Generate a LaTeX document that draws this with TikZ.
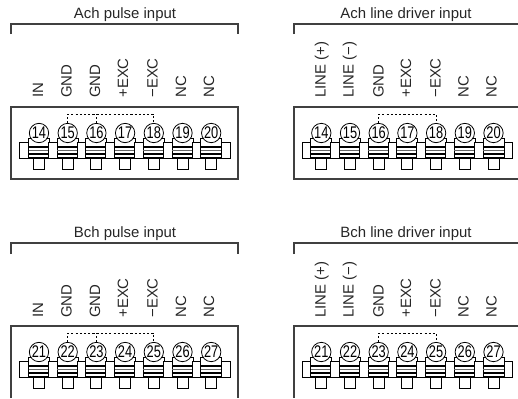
\documentclass[tikz,border=0pt]{standalone}
\usepackage{fontspec}
\setmainfont{Liberation Sans}
\tikzset{
  lbl/.style={font=\fontsize{8.5}{9}\selectfont, inner sep=0pt, text=black!85},
  sig/.style={lbl, rotate=90, anchor=mid west},
  num/.style={circle, draw, fill=white, line width=0.45pt, minimum size=11pt, inner sep=0pt, font=\fontsize{9.6}{10}\selectfont},
  edge/.style={line width=0.6pt, black!75},
  part/.style={line width=0.5pt, fill=white},
  link/.style={line width=0.4pt, dash pattern=on 1.2pt off 1.2pt},
}
% one terminal at x, y: post, body, stripes, foot, number
\newcommand{\term}[4]{
  \draw[part] (#1-19.2,#2+9) rectangle (#1-10.5,#2+25);
  \draw[part] (#1-10.5,#2+5) rectangle (#1+10.5,#2+25);
  \draw[part] (#1-5.5,#2+25) rectangle (#1+5.5,#2+36);
  \draw[line width=0.7pt] (#1-10.5,#2+14) -- (#1+10.5,#2+14) (#1-10.5,#2+21) -- (#1+10.5,#2+21) (#1-10.5,#2+25) -- (#1+10.5,#2+25);
  \draw[line width=0.4pt, black!60] (#1-10.5,#2+17.5) -- (#1+10.5,#2+17.5);
  \node[num] (#3#4) at (#1,#2) {\scalebox{0.76}[1]{#4}};
}
\begin{document}
\begin{tikzpicture}[x=0.569pt,y=-0.569pt]
\useasboundingbox (0,0) rectangle (518,398);
\clip (0,0) rectangle (518,398);
% Ach pulse input
\node[lbl] (ta) at (125,14.5) {Ach pulse input};
\draw[edge] (11,34) -- (11,24) -- (238,24) -- (238,34);
\draw[edge] (11,107) rectangle (238,179);
\foreach \x/\s in {38.5/IN,67/GND,95.5/GND,123.5/+EXC,153/−EXC,181.5/NC,209.5/NC}
  \node[sig] (la\s) at (\x,98) {\s};
\foreach \x/\n in {39/14,67.7/15,96.4/16,125.1/17,153.8/18,182.5/19,211.2/20}
  \term{\x}{133}{a}{\n}
\draw[part] (221.7,142) rectangle (230.2,158);
\draw[link] (a15.north) -- ++(0,-9) -| (a18.north);
\draw[link] (a16.north) -- ++(0,-9);
% Ach line driver input
\node[lbl] (tb) at (406,14.5) {Ach line driver input};
\draw[edge] (294,34) -- (294,24) -- (518,24);
\draw[edge] (518,107) -- (294,107) -- (294,179) -- (518,179);
\foreach \x/\s in {321/LINE (+),349/LINE (−),379/GND,406.5/+EXC,436/−EXC,464/NC,492/NC}
  \node[sig] (lb\s) at (\x,98) {\s};
\foreach \x/\n in {321.3/14,350/15,378.7/16,407.4/17,436.1/18,464.8/19,493.5/20}
  \term{\x}{133}{b}{\n}
\draw[part] (504,142) rectangle (512.5,158);
\draw[link] (b16.north) -- ++(0,-9) -| (b18.north);
% Bch pulse input
\node[lbl] (tc) at (125,233.5) {Bch pulse input};
\draw[edge] (11,254) -- (11,243) -- (238,243) -- (238,254);
\draw[edge] (11,398) -- (11,326) -- (238,326) -- (238,398);
\foreach \x/\s in {38.5/IN,67/GND,95.5/GND,123.5/+EXC,153/−EXC,181.5/NC,209.5/NC}
  \node[sig] (lc\s) at (\x,318) {\s};
\foreach \x/\n in {39/21,67.7/22,96.4/23,125.1/24,153.8/25,182.5/26,211.2/27}
  \term{\x}{352}{c}{\n}
\draw[part] (221.7,361) rectangle (230.2,377);
\draw[link] (c22.north) -- ++(0,-9) -| (c25.north);
\draw[link] (c23.north) -- ++(0,-9);
% Bch line driver input
\node[lbl] (td) at (406,233.5) {Bch line driver input};
\draw[edge] (294,254) -- (294,243) -- (518,243);
\draw[edge] (518,326) -- (294,326) -- (294,398);
\foreach \x/\s in {321/LINE (+),349/LINE (−),379/GND,406.5/+EXC,436/−EXC,464/NC,492/NC}
  \node[sig] (ld\s) at (\x,318) {\s};
\foreach \x/\n in {321.3/21,350/22,378.7/23,407.4/24,436.1/25,464.8/26,493.5/27}
  \term{\x}{352}{d}{\n}
\draw[part] (504,361) rectangle (512.5,377);
\draw[link] (d23.north) -- ++(0,-9) -| (d25.north);
\end{tikzpicture}
\end{document}
